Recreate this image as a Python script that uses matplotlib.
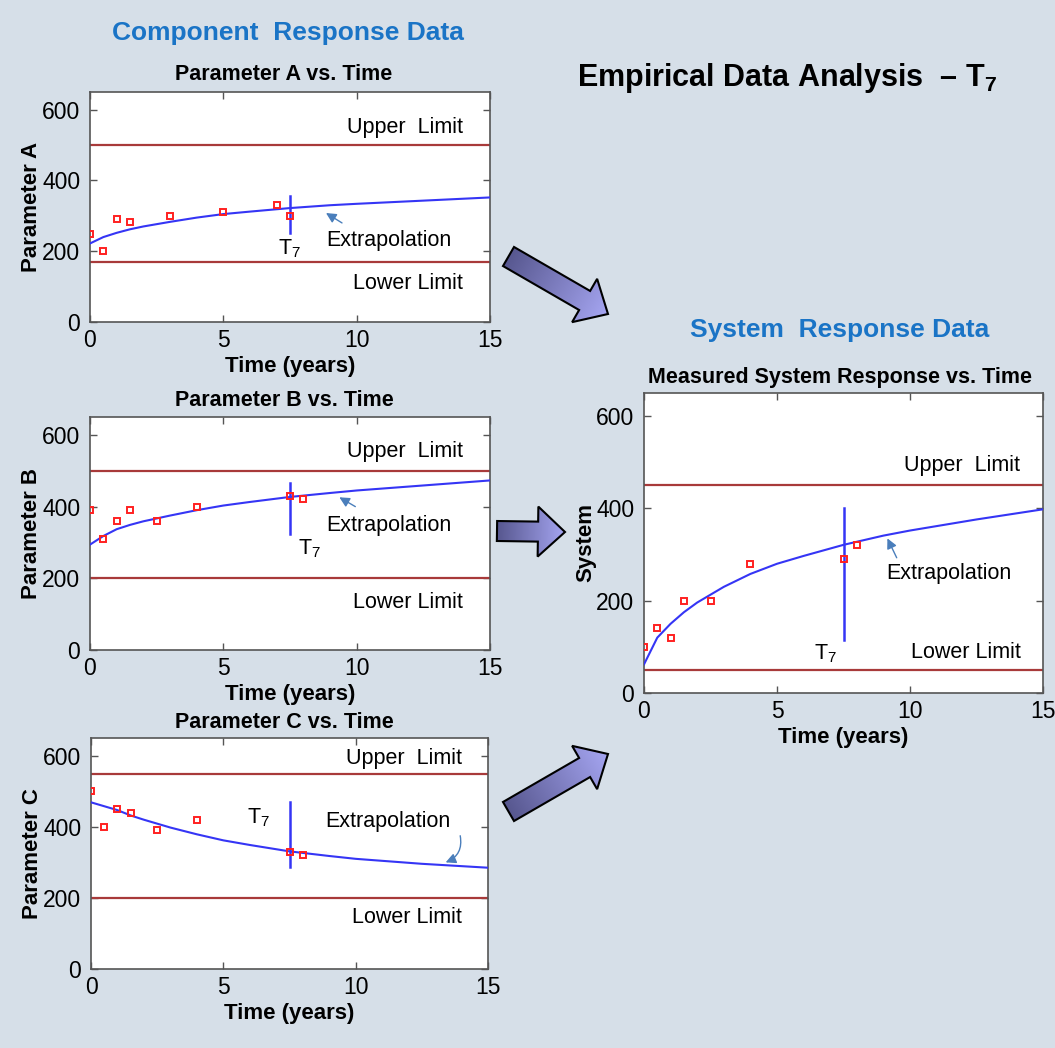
import matplotlib
matplotlib.use("Agg")
import matplotlib.pyplot as plt
import numpy as np
from matplotlib.patches import Polygon
from matplotlib.colors import LinearSegmentedColormap

plt.rcParams['font.family'] = ['Liberation Sans', 'DejaVu Sans']
plt.rcParams['mathtext.fontset'] = 'custom'
plt.rcParams['mathtext.rm'] = 'Liberation Sans'
plt.rcParams['mathtext.bf'] = 'Liberation Sans:bold'

# measured points
a_t = [0, 0.5, 1, 1.5, 3, 5, 7, 7.5]
a_val = [250, 200, 290, 283, 300, 310, 330, 300]
b_t = [0, 0.5, 1, 1.5, 2.5, 4, 7.5, 8]
b_val = [390, 310, 360, 390, 360, 400, 430, 420]
c_t = [0, 0.5, 1, 1.5, 2.5, 4, 7.5, 8]
c_val = [500, 400, 450, 440, 390, 420, 330, 320]
s_t = [0, 0.5, 1, 1.5, 2.5, 4, 7.5, 8]
s_val = [100, 140, 120, 200, 200, 280, 290, 320]

# fitted / extrapolated curves
fit_t = [0, 0.5, 1, 1.5, 2, 3, 4, 5, 6, 7.5, 9, 10, 12.5, 15]
a_fit = [222, 240, 252, 262, 270, 283, 295, 305, 312, 322, 330, 334, 343, 352]
b_fit = [294, 318, 337, 349, 359, 375, 390, 403, 413, 427, 438, 445, 459, 473]
c_fit = [469, 458, 447, 432, 420, 398, 379, 362, 349, 331, 318, 310, 296, 285]
s_fit = [62, 120, 150, 175, 196, 230, 258, 280, 297, 321, 341, 352, 376, 398]

# limits (upper, lower)
a_lim = [500, 170]
b_lim = [500, 200]
c_lim = [550, 200]
s_lim = [450, 50]

# T7 marker line (time, from, to)
a_t7 = [7.5, 252, 355]
b_t7 = [7.5, 323, 466]
c_t7 = [7.5, 287, 469]
s_t7 = [7.5, 115, 400]

W, H = 1055, 1048
bg = '#d6dfe8'
fig = plt.figure(figsize=(W / 100, H / 100), dpi=100, facecolor=bg)

blue = '#3535f5'
red_line = '#a83a3a'
arr_col = '#4a7ebb'


def px_axes(l, t, r, b):
    return fig.add_axes([l / W, 1 - b / H, (r - l) / W, (b - t) / H])


def panel(ax, t, v, ft, fv, lim, t7, ylabel, txt):
    ax.set_facecolor('white')
    ax.axhline(lim[0], color=red_line, lw=1.6, zorder=2)
    ax.axhline(lim[1], color=red_line, lw=1.6, zorder=2)
    ax.plot(ft, fv, color=blue, lw=1.5, zorder=3)
    ax.plot(t, v, 's', ms=5, mfc='none', mec='#ff2020', mew=1.4, zorder=4)
    ax.plot([t7[0], t7[0]], [t7[1], t7[2]], color=blue, lw=1.8, zorder=3)
    ax.set_xlim(0, 15)
    ax.set_ylim(0, 650)
    ax.set_xticks([0, 5, 10, 15])
    ax.set_yticks([0, 200, 400, 600])
    ax.tick_params(direction='in', length=5, width=1, top=True, right=True,
                   labelsize=16.5, color='#555555')
    ax.tick_params(axis='x', pad=5)
    ax.tick_params(axis='y', pad=7)
    for s in ax.spines.values():
        s.set_color('#555555')
        s.set_linewidth(1.2)
    ax.set_xlabel('Time (years)', fontsize=16, fontweight='bold', labelpad=3)
    ax.set_ylabel(ylabel, fontsize=16, fontweight='bold', labelpad=0)
    (ux, uy), (lx, ly), (ex, ey), (tx, ty), (tip, tail, rad) = txt
    ax.text(ux, uy, 'Upper  Limit', ha='right', va='center', fontsize=15.5)
    ax.text(lx, ly, 'Lower Limit', ha='right', va='center', fontsize=15.5)
    ax.text(ex, ey, 'Extrapolation', ha='left', va='center', fontsize=15.5)
    ax.text(tx, ty, 'T$_{\\mathrm{7}}$', ha='left', va='center', fontsize=15.5)
    ax.annotate('', xy=tip, xytext=tail,
                arrowprops=dict(arrowstyle='-|>', color=arr_col, lw=1.0,
                                mutation_scale=15, shrinkA=0, shrinkB=0,
                                connectionstyle='arc3,rad=%s' % rad))


axA = px_axes(90, 92, 490, 322)
panel(axA, a_t, a_val, fit_t, a_fit, a_lim, a_t7, 'Parameter A',
      [(14.0, 550), (14.0, 109), (8.85, 231), (7.06, 207),
       ((8.85, 308), (9.45, 280), 0)])
axB = px_axes(90, 417, 490, 650)
panel(axB, b_t, b_val, fit_t, b_fit, b_lim, b_t7, 'Parameter B',
      [(14.0, 553), (14.0, 133), (8.85, 348), (7.8, 283),
       ((9.35, 426), (9.95, 400), 0)])
axC = px_axes(91, 738, 488, 969)
panel(axC, c_t, c_val, fit_t, c_fit, c_lim, c_t7, 'Parameter C',
      [(14.0, 593), (14.0, 145), (8.85, 416), (5.9, 427),
       ((13.4, 300), (13.95, 375), -0.4)])
axS = px_axes(644, 393, 1043, 693)
panel(axS, s_t, s_val, fit_t, s_fit, s_lim, s_t7, 'System',
      [(14.15, 493), (14.15, 87), (9.1, 258), (6.4, 85),
       ((9.15, 335), (9.5, 293), 0)])

# headings and subplot titles
fig.text(288 / W, 1 - 33 / H, 'Component  Response Data', ha='center', va='center',
         fontsize=19, fontweight='bold', color='#1a74c6')
fig.text(840 / W, 1 - 330 / H, 'System  Response Data', ha='center', va='center',
         fontsize=19, fontweight='bold', color='#1a74c6')
fig.text(787 / W, 1 - 78 / H, 'Empirical Data Analysis  \u2013 T$_{\\mathbf{7}}$',
         ha='center', va='center', fontsize=22, fontweight='bold')
fig.text(284 / W, 1 - 75 / H, 'Parameter A vs. Time', ha='center', va='center',
         fontsize=15.5, fontweight='bold')
fig.text(284 / W, 1 - 401 / H, 'Parameter B vs. Time', ha='center', va='center',
         fontsize=15.5, fontweight='bold')
fig.text(284 / W, 1 - 723 / H, 'Parameter C vs. Time', ha='center', va='center',
         fontsize=15.5, fontweight='bold')
fig.text(840 / W, 1 - 377 / H, 'Measured System Response vs. Time', ha='center',
         va='center', fontsize=15.5, fontweight='bold')

# big block arrows with a gradient fill, drawn in pixel coordinates
ov = fig.add_axes([0, 0, 1, 1], zorder=5)
ov.set_xlim(0, W)
ov.set_ylim(H, 0)
ov.axis('off')
ov.patch.set_alpha(0)
cmap = LinearSegmentedColormap.from_list('arr', ['#57578f', '#a6a6f2'])


def block_arrow(tail, tip, shaft_w=22, head_w=50, head_l=27):
    tail = np.array(tail, float)
    tip = np.array(tip, float)
    d = tip - tail
    L = np.hypot(*d)
    u = d / L
    n = np.array([-u[1], u[0]])
    base = tip - u * head_l
    pts = [tail + n * shaft_w / 2, base + n * shaft_w / 2, base + n * head_w / 2, tip,
           base - n * head_w / 2, base - n * shaft_w / 2, tail - n * shaft_w / 2]
    poly = Polygon(pts, closed=True, fc='none', ec='black', lw=1.5, zorder=6)
    ov.add_patch(poly)
    xs = [p[0] for p in pts]
    ys = [p[1] for p in pts]
    gx = np.linspace(min(xs), max(xs), 200)
    gy = np.linspace(min(ys), max(ys), 200)
    X, Y = np.meshgrid(gx, gy)
    proj = ((X - tail[0]) * u[0] + (Y - tail[1]) * u[1]) / L
    im = ov.imshow(proj, extent=(min(xs), max(xs), max(ys), min(ys)), cmap=cmap,
                   vmin=0, vmax=1, origin='upper', zorder=5, aspect='auto')
    clip = Polygon(pts, closed=True, transform=ov.transData)
    im.set_clip_path(clip)


block_arrow((508.5, 256.5), (608, 314))
block_arrow((497, 531), (565, 532), shaft_w=20)
block_arrow((508.5, 811.5), (608, 754))
ov.set_xlim(0, W)
ov.set_ylim(H, 0)

fig.savefig('out.png', dpi=100, facecolor=bg)
